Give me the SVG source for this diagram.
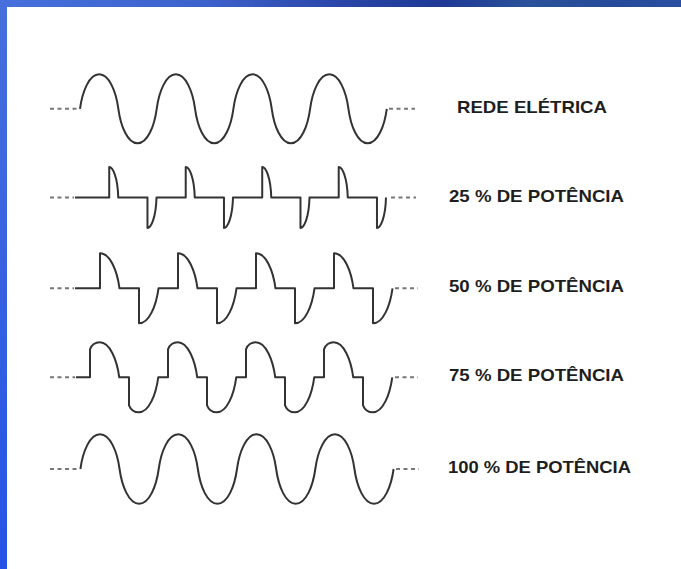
<svg xmlns="http://www.w3.org/2000/svg" width="681" height="569" viewBox="0 0 681 569">
  <defs>
    <linearGradient id="topbar" x1="0" y1="0" x2="1" y2="0">
      <stop offset="0" stop-color="#4670dc"/>
      <stop offset="0.3" stop-color="#3d62cc"/>
      <stop offset="0.5" stop-color="#2a45a8"/>
      <stop offset="0.65" stop-color="#1f3995"/>
      <stop offset="0.78" stop-color="#2a5299"/>
      <stop offset="0.9" stop-color="#264a9a"/>
      <stop offset="1" stop-color="#2a4fa0"/>
    </linearGradient>
    <linearGradient id="leftbar" x1="0" y1="0" x2="0" y2="1">
      <stop offset="0" stop-color="#4670dc"/>
      <stop offset="1" stop-color="#2553e6"/>
    </linearGradient>
  </defs>
  <style>
    .wave { fill: none; stroke: #333; stroke-width: 2; stroke-linejoin: round; }
    .dots { fill: none; stroke: #777; stroke-width: 2; stroke-dasharray: 4 3.5; }
    .label { font-family: "Liberation Sans", Arial, sans-serif; font-weight: bold; font-size: 17px; fill: #1e1e1e; }
  </style>
  <rect x="0" y="0" width="681" height="569" fill="#ffffff"/>
  <rect x="0" y="0" width="681" height="7" fill="url(#topbar)"/>
  <rect x="0" y="0" width="7" height="569" fill="url(#leftbar)"/>

  <g id="rede">
    <line class="dots" x1="50" y1="108.8" x2="79" y2="108.8"/>
    <path class="wave" d="M80,108.8 c2.301,-17.25 9.204,-34.5 19.175,-34.5
      s16.874,17.25 19.175,34.5 s9.204,34.5 19.175,34.5 s16.874,-17.25 19.175,-34.5
      s9.204,-34.5 19.175,-34.5 s16.874,17.25 19.175,34.5 s9.204,34.5 19.175,34.5 s16.874,-17.25 19.175,-34.5
      s9.204,-34.5 19.175,-34.5 s16.874,17.25 19.175,34.5 s9.204,34.5 19.175,34.5 s16.874,-17.25 19.175,-34.5
      s9.204,-34.5 19.175,-34.5 s16.874,17.25 19.175,34.5 s9.204,34.5 19.175,34.5 s16.874,-17.25 19.175,-34.5"/>
    <line class="dots" x1="389" y1="108.8" x2="415" y2="108.8"/>
    <text class="label" x="457" y="113" textLength="150" lengthAdjust="spacingAndGlyphs">REDE ELÉTRICA</text>
  </g>

  <g id="p25">
    <line class="dots" x1="50" y1="197.5" x2="74" y2="197.5"/>
    <path class="wave" d="M75,197.5 H80
      h29.22 v-30.4 c3.5,0 8.5,10 9.03,30.4 h29.22 v30.4 c3.5,0 8.5,-10 9.03,-30.4
      h29.22 v-30.4 c3.5,0 8.5,10 9.03,30.4 h29.22 v30.4 c3.5,0 8.5,-10 9.03,-30.4
      h29.22 v-30.4 c3.5,0 8.5,10 9.03,30.4 h29.22 v30.4 c3.5,0 8.5,-10 9.03,-30.4
      h29.22 v-30.4 c3.5,0 8.5,10 9.03,30.4 h29.22 v30.4 c3.5,0 8.5,-10 9.03,-30.4"/>
    <line class="dots" x1="391" y1="197.5" x2="416" y2="197.5"/>
    <text class="label" x="449" y="202" textLength="175" lengthAdjust="spacingAndGlyphs">25 % DE POTÊNCIA</text>
  </g>

  <g id="p50">
    <line class="dots" x1="50" y1="288.3" x2="74" y2="288.3"/>
    <path class="wave" d="M75,288.3 H80.5
      h19.5 v-35 c10.14,0 17.16,17.5 19.5,35 h19.5 v35 c10.14,0 17.16,-17.5 19.5,-35
      h19.5 v-35 c10.14,0 17.16,17.5 19.5,35 h19.5 v35 c10.14,0 17.16,-17.5 19.5,-35
      h19.5 v-35 c10.14,0 17.16,17.5 19.5,35 h19.5 v35 c10.14,0 17.16,-17.5 19.5,-35
      h19.5 v-35 c10.14,0 17.16,17.5 19.5,35 h19.5 v35 c10.14,0 17.16,-17.5 19.5,-35"/>
    <line class="dots" x1="395" y1="288.3" x2="418" y2="288.3"/>
    <text class="label" x="449" y="292.3" textLength="175" lengthAdjust="spacingAndGlyphs">50 % DE POTÊNCIA</text>
  </g>

  <g id="p75">
    <line class="dots" x1="50" y1="377.3" x2="75" y2="377.3"/>
    <path class="wave" d="M76,377.3 H80.25
      h9.75 v-28 c2,-5 5.5,-7 9.75,-7 c10.14,0 17.16,17.5 19.5,35 h9.75 v28 c2,5 5.5,7 9.75,7 c10.14,0 17.16,-17.5 19.5,-35
      h9.75 v-28 c2,-5 5.5,-7 9.75,-7 c10.14,0 17.16,17.5 19.5,35 h9.75 v28 c2,5 5.5,7 9.75,7 c10.14,0 17.16,-17.5 19.5,-35
      h9.75 v-28 c2,-5 5.5,-7 9.75,-7 c10.14,0 17.16,17.5 19.5,35 h9.75 v28 c2,5 5.5,7 9.75,7 c10.14,0 17.16,-17.5 19.5,-35
      h9.75 v-28 c2,-5 5.5,-7 9.75,-7 c10.14,0 17.16,17.5 19.5,35 h9.75 v28 c2,5 5.5,7 9.75,7 c10.14,0 17.16,-17.5 19.5,-35"/>
    <line class="dots" x1="395" y1="377.3" x2="418" y2="377.3"/>
    <text class="label" x="449" y="380.7" textLength="175" lengthAdjust="spacingAndGlyphs">75 % DE POTÊNCIA</text>
  </g>

  <g id="p100">
    <line class="dots" x1="50" y1="469" x2="79" y2="469"/>
    <path class="wave" d="M80.4,469 c2.349,-17.35 9.396,-34.7 19.575,-34.7
      s17.226,17.35 19.575,34.7 s9.396,34.7 19.575,34.7 s17.226,-17.35 19.575,-34.7
      s9.396,-34.7 19.575,-34.7 s17.226,17.35 19.575,34.7 s9.396,34.7 19.575,34.7 s17.226,-17.35 19.575,-34.7
      s9.396,-34.7 19.575,-34.7 s17.226,17.35 19.575,34.7 s9.396,34.7 19.575,34.7 s17.226,-17.35 19.575,-34.7
      s9.396,-34.7 19.575,-34.7 s17.226,17.35 19.575,34.7 s9.396,34.7 19.575,34.7 s17.226,-17.35 19.575,-34.7"/>
    <line class="dots" x1="396" y1="469" x2="419" y2="469"/>
    <text class="label" x="448" y="473.3" textLength="183" lengthAdjust="spacingAndGlyphs">100 % DE POTÊNCIA</text>
  </g>
</svg>
